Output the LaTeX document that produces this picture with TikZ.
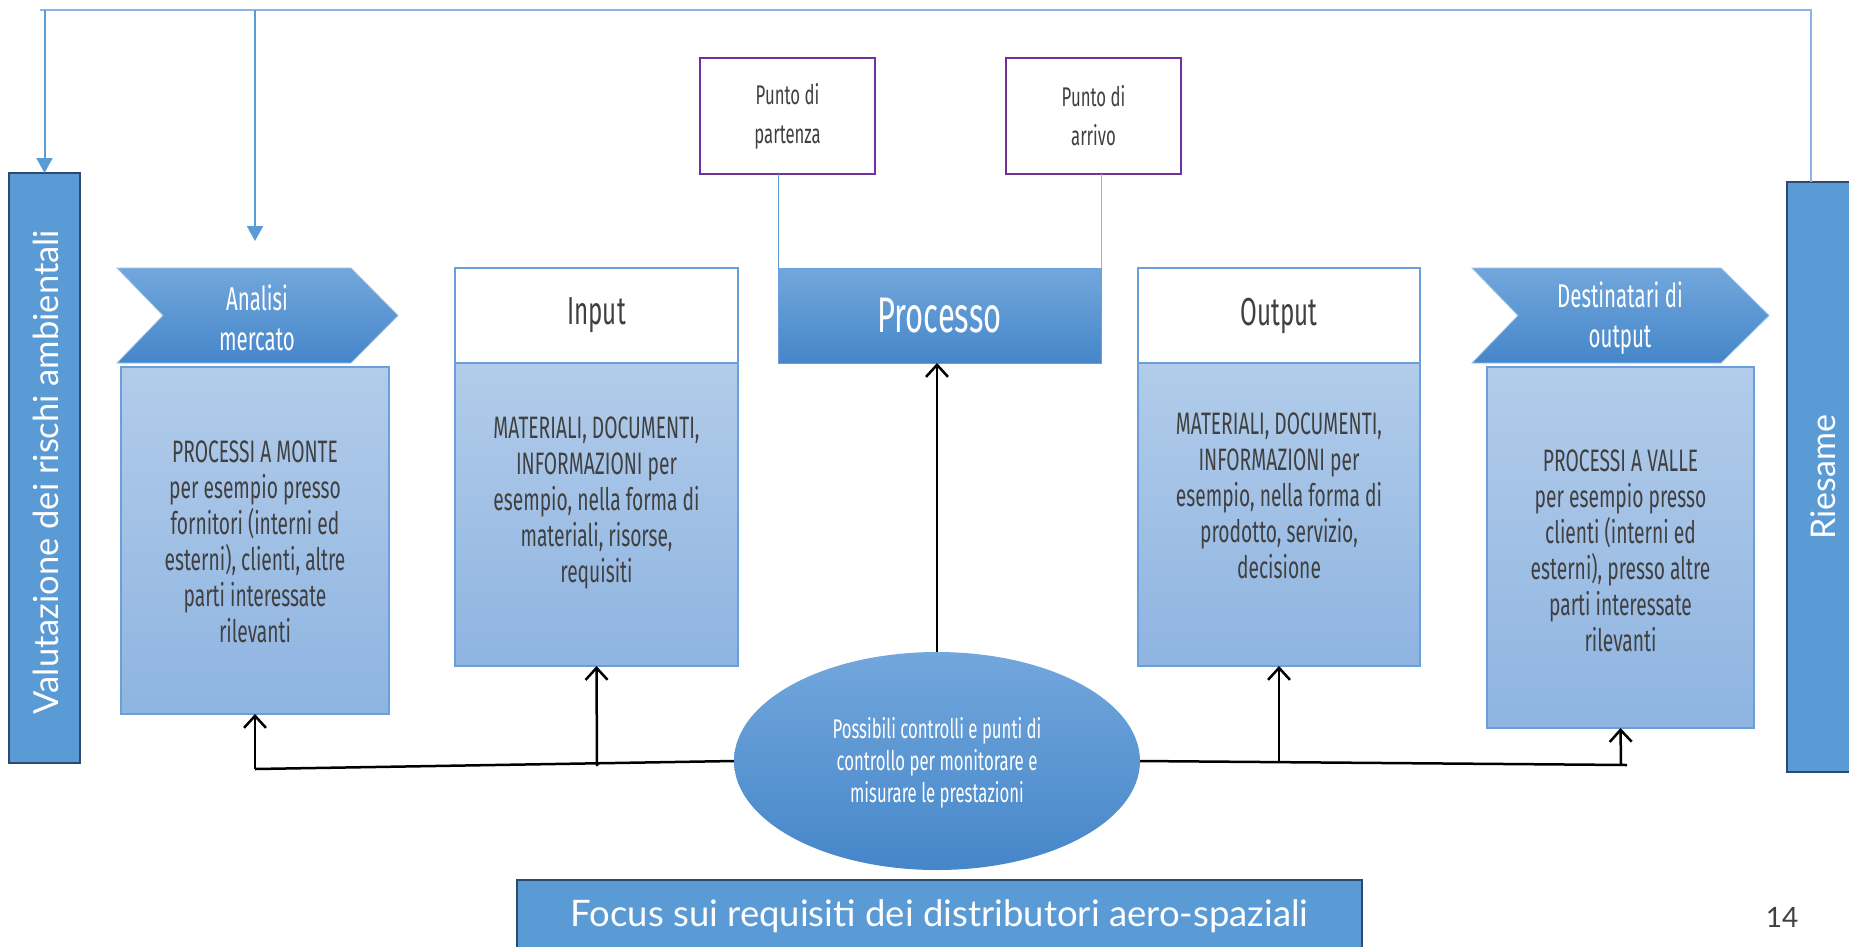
\documentclass[tikz,border=0pt]{standalone}
\usepackage{fontspec}
\setmainfont{Lato}
\newfontfamily\agency[FakeStretch=0.62]{Fira Sans}
\newfontfamily\gill{Lato}
\usetikzlibrary{arrows.meta,shapes.geometric}
\definecolor{midblue}{HTML}{5B9BD5}
\definecolor{navy}{HTML}{2E4B6F}
\definecolor{chevtop}{HTML}{72A7DC}
\definecolor{chevbot}{HTML}{4586C9}
\definecolor{lighttop}{HTML}{B2CCEA}
\definecolor{lightbot}{HTML}{8EB4E1}
\definecolor{edgeblue}{HTML}{6A9FD9}
\definecolor{purp}{HTML}{7030A0}
\definecolor{txtgray}{HTML}{404040}
\definecolor{topline}{HTML}{8DB4E2}
\tikzset{
 bodybox/.style={draw=edgeblue, line width=1.5pt, top color=lighttop, bottom color=lightbot, inner sep=0pt, outer sep=0pt},
 hdrbox/.style={draw=edgeblue, line width=2pt, fill=white, inner sep=0pt, outer sep=0pt, text=txtgray, font=\agency\fontsize{39}{44}\selectfont},
 bodytxt/.style={text=txtgray, align=center, font=\agency\fontsize{31}{36}\selectfont, inner sep=0pt},
 darkbar/.style={draw=navy, line width=2.5pt, fill=midblue, inner sep=0pt, outer sep=0pt},
 puntobox/.style={draw=purp, line width=2.5pt, fill=white, inner sep=0pt, outer sep=0pt, text=txtgray, align=center, font=\agency\fontsize{27}{39}\selectfont},
 chev/.style={top color=chevtop, bottom color=chevbot, draw=chevtop!70!white, line width=0.8pt},
 chevtxt/.style={text=white, align=center, font=\agency\fontsize{33}{40}\selectfont, inner sep=0pt},
 ctrl/.style={draw=black, line width=2.5pt},
 ctrlarrow/.style={ctrl, -{Straight Barb[length=12pt,width=22pt]}},
 fbarrow/.style={draw=midblue, line width=2pt, -{Triangle[length=15pt,width=16pt]}},
 thinlink/.style={draw=midblue, line width=1pt},
 wtxt/.style={text=white, inner sep=0pt},
}
\begin{document}
\begin{tikzpicture}[x=1pt,y=-1pt]
\useasboundingbox (0,0) rectangle (1849,946);

% side bars
\node[darkbar, minimum width=71pt, minimum height=590pt] (val) at (44.5,468) {};
\node[wtxt, rotate=90, font=\gill\fontsize{34.5}{40}\selectfont] (valt) at (46,472) {Valutazione dei rischi ambientali};
\node[darkbar, minimum width=68pt, minimum height=590pt] (ries) at (1821,477) {};
\node[wtxt, rotate=90, font=\gill\fontsize{34}{40}\selectfont] (riest) at (1823,477) {Riesame};

% top feedback lines
\coordinate (tl) at (40,10);
\coordinate (tr) at (1811,10);
\draw[draw=topline, line width=1.5pt] (tl) -- (tr) -- (tr |- ries.north);
\draw[fbarrow] (val.north |- tl) -- (val.north);
\coordinate (a2) at (255,10);
\coordinate (a2e) at (255,241);
\draw[fbarrow] (a2) -- (a2e);

% chevrons
\path[chev] (117,268) -- (351,268) -- (398,315.5) -- (351,363) -- (117,363) -- (163,315.5) -- cycle;
\node[chevtxt] (am) at (257,318) {Analisi\\mercato};
\path[chev] (1472,268) -- (1721,268) -- (1769,315.5) -- (1721,363) -- (1472,363) -- (1518,315.5) -- cycle;
\node[chevtxt] (dest) at (1620,318) {Destinatari di\\output};

% body boxes
\node[bodybox, minimum width=268pt, minimum height=347pt] (b1) at (255,540.5) {};
\node[bodytxt] (b1t) at (255,542) {PROCESSI A MONTE\\per esempio presso\\fornitori (interni ed\\esterni), clienti, altre\\parti interessate\\rilevanti};

\node[bodybox, minimum width=283pt, minimum height=303pt] (inb) at (596.5,514.5) {};
\node[hdrbox, minimum width=283pt, minimum height=95pt] (inh) at (596.5,315.5) {Input};
\node[bodytxt] (inbt) at (596.5,503) {MATERIALI, DOCUMENTI,\\INFORMAZIONI per\\esempio, nella forma di\\materiali, risorse,\\requisiti};

\node[bodybox, minimum width=282pt, minimum height=303pt] (outb) at (1279,514.5) {};
\node[hdrbox, minimum width=282pt, minimum height=95pt] (outh) at (1279,315.5) {Output};
\node[bodytxt] (outbt) at (1279,496) {MATERIALI, DOCUMENTI,\\INFORMAZIONI per\\esempio, nella forma di\\prodotto, servizio,\\decisione};

\node[bodybox, minimum width=267pt, minimum height=361pt] (b5) at (1620.5,547.5) {};
\node[bodytxt] (b5t) at (1620.5,551) {PROCESSI A VALLE\\per esempio presso\\clienti (interni ed\\esterni), presso altre\\parti interessate\\rilevanti};

% process
\node[top color=chevtop, bottom color=chevbot, draw=edgeblue, line width=1pt, minimum width=323pt, minimum height=95pt, inner sep=0pt, outer sep=0pt, text=white, font=\agency\fontsize{50}{56}\selectfont] (pr) at (939.5,315.5) {Processo};
\node[puntobox, minimum width=175pt, minimum height=116pt] (pp) at (787.5,116) {Punto di\\partenza};
\node[puntobox, minimum width=175pt, minimum height=116pt] (pa) at (1093.5,116) {Punto di\\arrivo};
\draw[thinlink] (pp.south -| pr.north west) -- (pr.north west);
\draw[draw=topline, line width=1pt] (pa.south -| pr.north east) -- (pr.north east);

% controls ellipse
\node[ellipse, minimum width=406pt, minimum height=218pt, top color=chevtop, bottom color=chevbot, inner sep=0pt, outer sep=0pt] (ell) at (937,761) {};
\node[wtxt, align=center, font=\agency\fontsize{27}{32}\selectfont] (ellt) at (937,763) {Possibili controlli e punti di\\controllo per monitorare e\\misurare le prestazioni};

\coordinate (j1) at (255,769);
\coordinate (j2) at (597,766);
\coordinate (j4) at (1279,763);
\coordinate (j5) at (1621,765);
\coordinate (j5e) at (1627,765);
\draw[ctrl] (j1) -- (ell.west);
\draw[ctrl] (ell.east) -- (j5e);
\draw[ctrlarrow] (j1) -- (b1.south);
\draw[ctrlarrow] (j2) -- (inb.south);
\draw[ctrlarrow] (ell.north) -- (ell.north |- pr.south);
\draw[ctrlarrow] (j4) -- (outb.south);
\draw[ctrlarrow] (j5) -- (b5.south);

% bottom bar
\node[darkbar, minimum width=845pt, minimum height=90pt] (focus) at (939.5,925) {};
\node[wtxt, font=\gill\fontsize{36.5}{42}\selectfont] (focust) at (939.5,916) {Focus sui requisiti dei distributori aero-spaziali};

\node[text=txtgray, inner sep=0pt, font=\gill\fontsize{28}{34}\selectfont] (pg) at (1782,917) {14};
\end{tikzpicture}
\end{document}
